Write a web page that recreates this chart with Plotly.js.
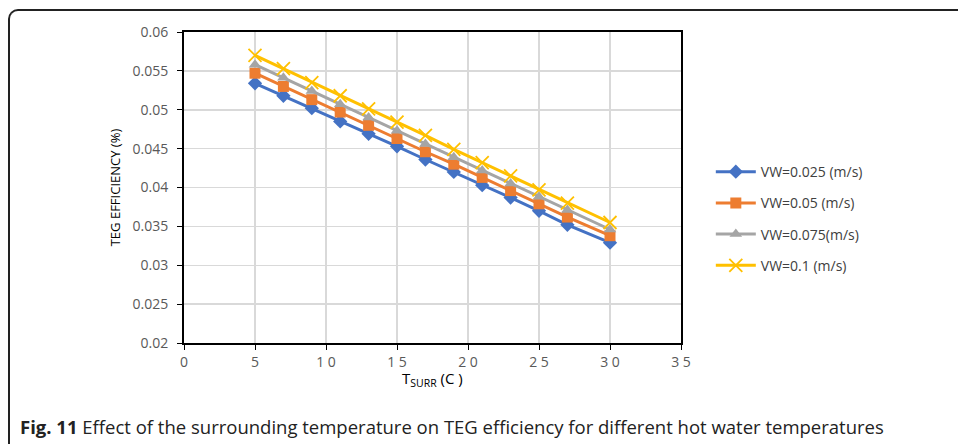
<!DOCTYPE html>
<html>
<head>
<meta charset="utf-8">
<script src="https://cdn.plot.ly/plotly-3.0.1.min.js"></script>
<style>
html,body{margin:0;padding:0;background:#fff;}
#wrap{position:relative;width:958px;height:444px;overflow:hidden;}
#frame{position:absolute;left:8px;top:9px;width:1000px;height:500px;border-left:2px solid #222;border-top:2px solid #222;border-top-left-radius:10px;}
#chart{position:absolute;left:0;top:0;width:958px;height:444px;}
</style>
</head>
<body>
<div id="wrap"><div id="frame"></div><div id="chart"></div></div>
<script>
const temps = [5, 7, 9, 11, 13, 15, 17, 19, 21, 23, 25, 27, 30];
const vw025 = [0.0534, 0.0518, 0.0502, 0.0485, 0.0469, 0.0453, 0.0436, 0.0420, 0.0403, 0.0387, 0.0370, 0.0352, 0.0329];
const vw05  = [0.0547, 0.0530, 0.0513, 0.0497, 0.0480, 0.0463, 0.0446, 0.0430, 0.0413, 0.0396, 0.0379, 0.0362, 0.0338];
const vw075 = [0.0558, 0.0541, 0.0524, 0.0507, 0.0490, 0.0473, 0.0456, 0.0439, 0.0422, 0.0405, 0.0388, 0.0371, 0.0346];
const vw10  = [0.0570, 0.0553, 0.0535, 0.0518, 0.0501, 0.0484, 0.0467, 0.0449, 0.0432, 0.0415, 0.0397, 0.0380, 0.0355];
const names = ['VW=0.025 (m/s)', 'VW=0.05 (m/s)', 'VW=0.075(m/s)', 'VW=0.1 (m/s)'];
const xTicks = [0, 5, 10, 15, 20, 25, 30, 35];
const yTicks = [0.02, 0.025, 0.03, 0.035, 0.04, 0.045, 0.05, 0.055, 0.06];

const series = [vw025, vw05, vw075, vw10];
const colors = ['#4472C4', '#ED7D31', '#A5A5A5', '#FFC000'];
const symbols = ['diamond', 'square', 'triangle-up', 'x-thin'];
const sizes = [11, 11, 11, 13];

const traces = series.map((ys, i) => ({
  x: temps, y: ys, name: names[i], type: 'scatter', mode: 'lines+markers',
  legendgroup: 'g' + i,
  line: {color: colors[i], width: 3},
  marker: {symbol: symbols[i], size: sizes[i], color: colors[i],
           line: {color: colors[i], width: i === 3 ? 1.8 : 0}}
}));

const axFont = {family: 'Open Sans, Liberation Sans, sans-serif', size: 14, color: '#595959'};
const layout = {
  width: 958, height: 444,
  margin: {l: 184, r: 277, t: 32, b: 101},
  paper_bgcolor: 'rgba(0,0,0,0)', plot_bgcolor: '#fff',
  font: {family: 'Open Sans, Liberation Sans, sans-serif'},
  xaxis: {
    range: [0, 35], tickvals: xTicks, ticktext: xTicks.map(v => String(v).split('').join(' ')),
    showgrid: true, gridcolor: '#d9d9d9', gridwidth: 1.5,
    showline: true, linecolor: '#000', linewidth: 2, mirror: true,
    ticks: 'outside', ticklen: 5, tickcolor: '#000', tickwidth: 1,
    tickfont: axFont, zeroline: false
  },
  yaxis: {
    range: [0.02, 0.06], tickvals: yTicks, ticktext: yTicks.map(v => String(v)),
    showgrid: true, gridcolor: '#d9d9d9', gridwidth: 1.5,
    showline: true, linecolor: '#000', linewidth: 2, mirror: true,
    ticks: 'outside', ticklen: 5, tickcolor: '#000', tickwidth: 1, ticklabelstandoff: 6,
    tickfont: axFont, zeroline: false,
    title: {text: 'TEG EFFICIENCY (%)', font: {family: 'Open Sans, sans-serif', size: 13, color: '#000'}, standoff: 9}
  },
  legend: {
    x: 1.06, y: 0.40, xanchor: 'left', yanchor: 'middle',
    font: {family: 'Open Sans, Liberation Sans, sans-serif', size: 14, color: '#404040'},
    traceorder: 'grouped', tracegroupgap: 10, itemwidth: 40,
    bgcolor: 'rgba(0,0,0,0)'
  },
  showlegend: true,
  annotations: [{
    xref: 'paper', yref: 'paper', x: 0.5, y: -0.074, xanchor: 'center', yanchor: 'top',
    showarrow: false, text: 'T<sub>SURR</sub> (C )',
    font: {family: 'Open Sans, sans-serif', size: 15, color: '#000'}
  }, {
    xref: 'paper', yref: 'paper', x: -0.334, y: -0.27, xanchor: 'left', yanchor: 'middle',
    showarrow: false,
    text: '<b>Fig. 11</b> Effect of the surrounding temperature on TEG efficiency for different hot water temperatures',
    font: {family: 'Open Sans, Liberation Sans, sans-serif', size: 18.5, color: '#222'}
  }]
};
Plotly.newPlot('chart', traces, layout, {displayModeBar: false, staticPlot: true});
</script>
</body>
</html>
